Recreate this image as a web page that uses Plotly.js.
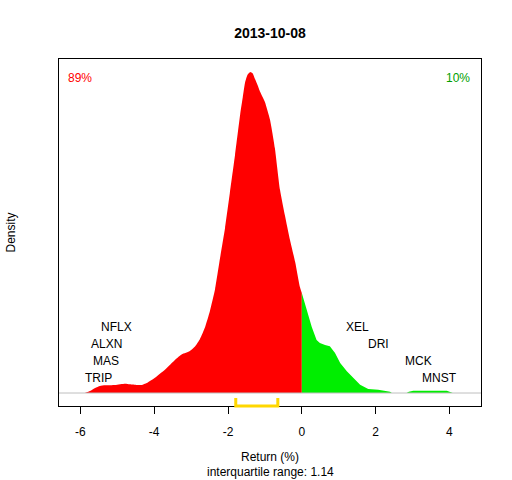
<!DOCTYPE html>
<html>
<head>
<meta charset="utf-8">
<script src="https://cdn.plot.ly/plotly-3.0.1.min.js"></script>
<style>html,body{margin:0;padding:0;background:#fff;}#chart{width:512px;height:480px;}</style>
</head>
<body>
<div id="chart"></div>
<script>
// Density of returns, negative side (red)
const negReturns = [-5.88,-5.74,-5.60,-5.47,-5.33,-5.06,-4.79,-4.66,-4.47,-4.34,-4.20,-3.98,-3.71,-3.43,-3.25,-3.03,-2.89,-2.76,-2.62,-2.49,-2.35,-2.22,-2.08,-1.95,-1.81,-1.67,-1.60,-1.54,-1.47,-1.40,-1.33,-1.27,-1.20,-1.13,-1.00,-0.86,-0.73,-0.59,-0.46,-0.32,-0.18,-0.05,0];
const negDensity = [0,0.0029,0.0074,0.0103,0.0113,0.0118,0.0137,0.0128,0.0118,0.0118,0.0147,0.0225,0.0343,0.0490,0.0569,0.0618,0.0687,0.0794,0.0971,0.1206,0.1529,0.1971,0.2426,0.2941,0.3500,0.4100,0.4350,0.4560,0.4680,0.4721,0.4700,0.4620,0.4530,0.4430,0.4279,0.4015,0.3603,0.2985,0.2618,0.2250,0.1926,0.1559,0.1470];
// Density of returns, positive side (green)
const posReturns = [0,0.13,0.27,0.40,0.49,0.63,0.76,0.90,1.04,1.22,1.40,1.58,1.80,2.07,2.39,2.44,2.84,2.90,3.02,3.50,3.93,4.09];
const posDensity = [0.1470,0.1220,0.0970,0.0780,0.0735,0.0706,0.0687,0.0588,0.0441,0.0319,0.0221,0.0122,0.0059,0.0049,0.0019,0,0,0.0019,0.0034,0.0037,0.0034,0];
// Extreme stocks
const worstTickers = ["NFLX","ALXN","MAS","TRIP"];
const worstReturns = [-5.01,-5.29,-5.31,-5.51];
const bestTickers = ["XEL","DRI","MCK","MNST"];
const bestReturns = [1.52,2.07,3.17,3.74];
const quartiles = [-1.79,-0.65];
const pctLabels = ["89%","10%"];
const tickVals = [-6,-4,-2,0,2,4];
const titleText = "2013-10-08";
const iqrText = "interquartile range: 1.14";

const FONT = "Liberation Sans, Arial, sans-serif";
const levels = [0.0966,0.0716,0.0466,0.0225];

const traces = [
  {x: negReturns, y: negDensity, type: "scatter", mode: "lines", fill: "tozeroy",
   fillcolor: "#FF0000", line: {width: 0, color: "#FF0000", shape: "spline", smoothing: 0.5}, hoverinfo: "skip"},
  {x: posReturns, y: posDensity, type: "scatter", mode: "lines", fill: "tozeroy",
   fillcolor: "#00EE00", line: {width: 0, color: "#00EE00"}, hoverinfo: "skip"}
];

const annotations = [];
worstTickers.forEach((t, i) => annotations.push({x: worstReturns[i], y: levels[i], xref: "x", yref: "y",
  text: t, showarrow: false, xanchor: "center", yanchor: "middle", font: {family: FONT, size: 12, color: "#000"}}));
bestTickers.forEach((t, i) => annotations.push({x: bestReturns[i], y: levels[i], xref: "x", yref: "y",
  text: t, showarrow: false, xanchor: "center", yanchor: "middle", font: {family: FONT, size: 12, color: "#000"}}));
annotations.push({x: 0, y: 1, xref: "paper", yref: "paper", xanchor: "left", yanchor: "middle", xshift: 7, yshift: -19,
  text: pctLabels[0], showarrow: false, font: {family: FONT, size: 12, color: "#FF0000"}});
annotations.push({x: 1, y: 1, xref: "paper", yref: "paper", xanchor: "right", yanchor: "middle", xshift: -9, yshift: -19,
  text: pctLabels[1], showarrow: false, font: {family: FONT, size: 12, color: "#00A000"}});
annotations.push({x: 0.5, y: 0, xref: "paper", yref: "paper", xanchor: "center", yanchor: "middle", yshift: -51,
  text: "Return (%)", showarrow: false, font: {family: FONT, size: 12, color: "#000"}});
annotations.push({x: 0.5, y: 0, xref: "paper", yref: "paper", xanchor: "center", yanchor: "middle", yshift: -66,
  text: iqrText, showarrow: false, font: {family: FONT, size: 12, color: "#000"}});
annotations.push({x: 0, y: 0.5, xref: "paper", yref: "paper", xanchor: "center", yanchor: "middle", xshift: -49,
  text: "Density", textangle: -90, showarrow: false, font: {family: FONT, size: 12, color: "#000"}});

const shapes = [
  {type: "line", xref: "paper", yref: "y", x0: 0, x1: 1, y0: 0, y1: 0, line: {color: "#BEBEBE", width: 1}},
  {type: "path", xref: "x", yref: "paper",
   path: `M ${quartiles[0]},0.023 L ${quartiles[0]},0 L ${quartiles[1]},0 L ${quartiles[1]},0.023`,
   line: {color: "#FFD700", width: 3}}
];

const layout = {
  width: 512, height: 480,
  margin: {l: 59, r: 31, t: 59, b: 74, pad: 0},
  paper_bgcolor: "#fff", plot_bgcolor: "#fff",
  showlegend: false,
  font: {family: FONT, size: 12, color: "#000"},
  title: {text: "<b>" + titleText + "</b>", x: 0.5, xref: "paper", xanchor: "center",
          y: 1 - 33/480, yanchor: "middle", font: {family: FONT, size: 14, color: "#000"}},
  xaxis: {range: [-6.58, 4.856], tickvals: tickVals, ticktext: tickVals.map(String),
          ticks: "outside", ticklen: 7, tickwidth: 1, tickcolor: "#000", ticklabelstandoff: 8,
          showline: true, mirror: true, linecolor: "#000", linewidth: 1,
          showgrid: false, zeroline: false, tickfont: {family: FONT, size: 12, color: "#000"}},
  yaxis: {range: [-0.0191, 0.4912], showticklabels: false, ticks: "",
          showline: true, mirror: true, linecolor: "#000", linewidth: 1,
          showgrid: false, zeroline: false},
  annotations: annotations,
  shapes: shapes
};

Plotly.newPlot("chart", traces, layout, {staticPlot: true, displayModeBar: false});
</script>
</body>
</html>
